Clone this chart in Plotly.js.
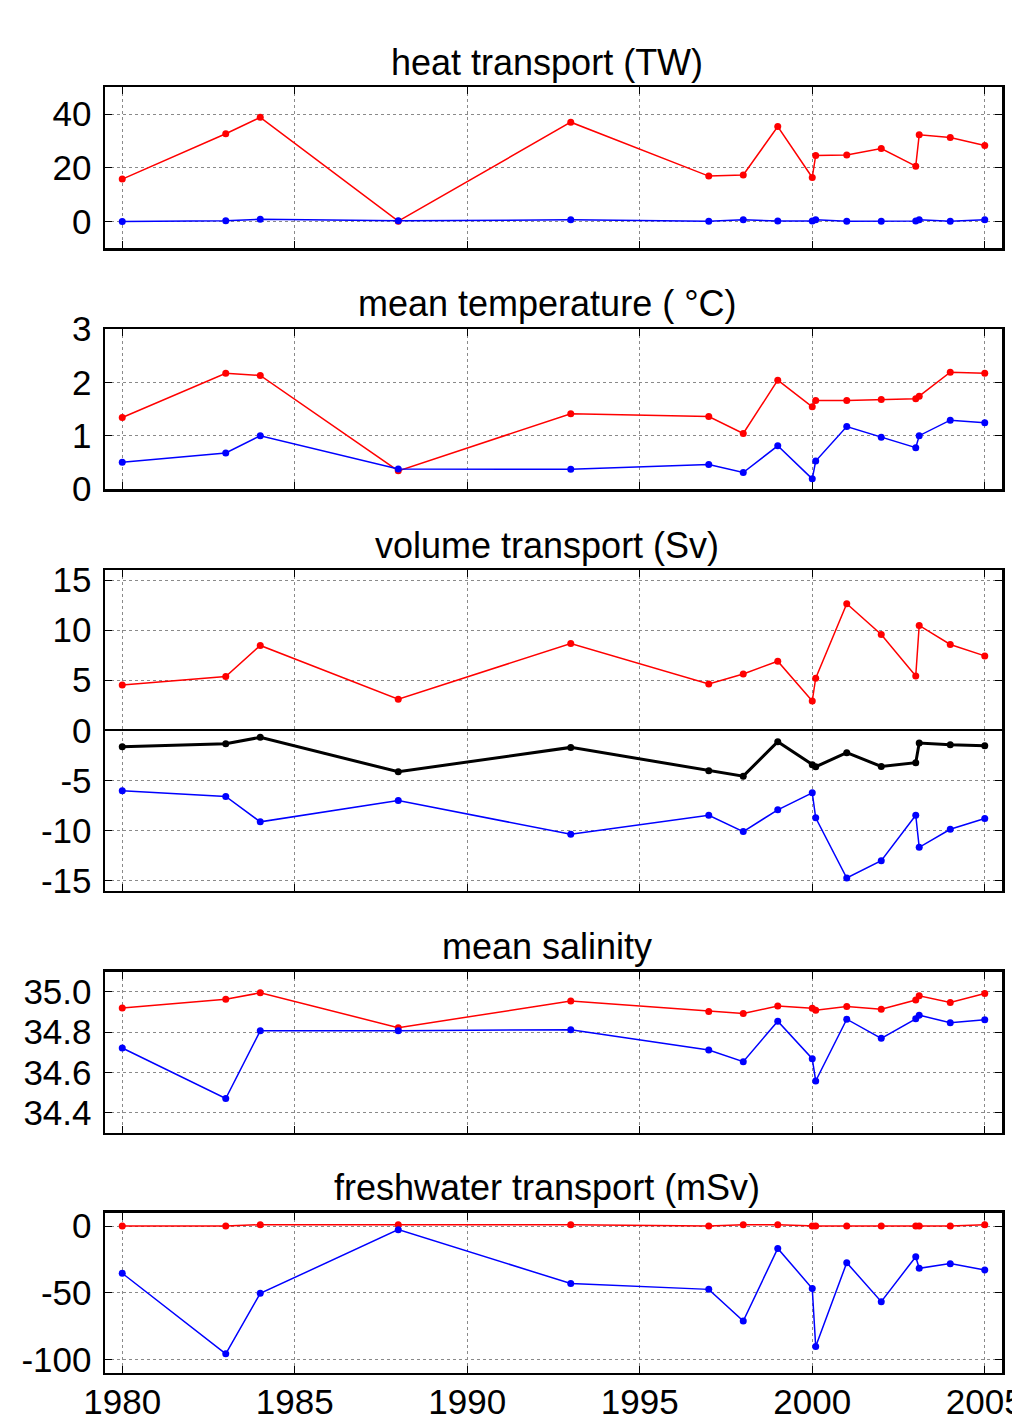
<!DOCTYPE html>
<html>
<head>
<meta charset="utf-8">
<script src="https://cdn.plot.ly/plotly-3.0.1.min.js"></script>
<style>
html,body{margin:0;padding:0;background:#fff;overflow:hidden;}
#chart{width:1012px;height:1420px;}
</style>
</head>
<body>
<div id="chart"></div>
<script>
// ---- data ----
const years = [1980, 1983, 1984, 1988, 1993, 1997, 1998, 1999, 2000, 2000.1, 2001, 2002, 2003, 2003.1, 2004, 2005];

const heatRed  = [15.8, 32.7, 38.8, 0.1, 37.0, 16.9, 17.3, 35.4, 16.4, 24.6, 24.8, 27.2, 20.6, 32.3, 31.3, 28.3];
const heatBlue = [0.0, 0.3, 0.8, 0.3, 0.6, 0.1, 0.6, 0.2, 0.2, 0.6, 0.1, 0.1, 0.2, 0.6, 0.1, 0.6];

const tempRed  = [1.34, 2.17, 2.13, 0.34, 1.41, 1.36, 1.04, 2.04, 1.54, 1.66, 1.66, 1.68, 1.69, 1.74, 2.19, 2.17];
const tempBlue = [0.50, 0.675, 1.00, 0.375, 0.37, 0.46, 0.31, 0.81, 0.19, 0.525, 1.17, 0.97, 0.775, 1.00, 1.29, 1.24];

const volRed   = [4.53, 5.37, 8.47, 3.1, 8.67, 4.63, 5.63, 6.9, 2.93, 5.2, 12.63, 9.57, 5.43, 10.47, 8.57, 7.43];
const volNet   = [-1.63, -1.33, -0.7, -4.13, -1.7, -4.03, -4.57, -1.13, -3.43, -3.63, -2.23, -3.6, -3.23, -1.27, -1.43, -1.53];
const volBlue  = [-6.03, -6.6, -9.13, -7.0, -10.37, -8.47, -10.1, -7.93, -6.23, -8.73, -14.73, -13.0, -8.47, -11.67, -9.87, -8.8];

const salRed   = [34.92, 34.963, 34.995, 34.822, 34.954, 34.902, 34.892, 34.929, 34.919, 34.909, 34.927, 34.914, 34.959, 34.98, 34.947, 34.992];
const salBlue  = [34.721, 34.47, 34.806, 34.806, 34.812, 34.711, 34.653, 34.854, 34.668, 34.557, 34.864, 34.769, 34.866, 34.884, 34.846, 34.861];

const fwRed    = [0, 0, 1, 1, 1, 0, 1, 1, 0, 0, 0, 0, 0, 0, 0, 1];
const fwBlue   = [-35.4, -95.8, -50.5, -2.7, -43.1, -47.5, -71.3, -16.8, -46.8, -90.3, -27.5, -56.7, -23.0, -31.7, -28.2, -32.9];

const panelTitles = ['heat transport (TW)', 'mean temperature ( °C)', 'volume transport (Sv)', 'mean salinity', 'freshwater transport (mSv)'];
const yRanges = [[-10, 50], [0, 3], [-16, 16], [34.3, 35.1], [-110, 10]];
const yTicks = [[0, 20, 40], [0, 1, 2, 3], [-15, -10, -5, 0, 5, 10, 15], [34.4, 34.6, 34.8, 35.0], [-100, -50, 0]];
const yTickText = [['0', '20', '40'], ['0', '1', '2', '3'], ['-15', '-10', '-5', '0', '5', '10', '15'], ['34.4', '34.6', '34.8', '35.0'], ['-100', '-50', '0']];
const xTicks = [1980, 1985, 1990, 1995, 2000, 2005];

// ---- layout geometry (pixels) ----
const H = 1420;
const boxes = [[87.3, 248.3], [329, 489], [570, 890.7], [971.7, 1132.7], [1212.7, 1372.7]];

const FONT = 'Liberation Sans, Arial, sans-serif';
const RED = '#ff0000', BLUE = '#0000ff', BLACK = '#000000';

function series(x, y, color, idx, width, msize) {
  const s = idx === 0 ? '' : String(idx + 1);
  return {
    x: x, y: y, type: 'scatter', mode: 'lines+markers',
    xaxis: 'x' + s, yaxis: 'y' + s,
    line: {color: color, width: width},
    marker: {color: color, size: msize},
    showlegend: false, hoverinfo: 'skip', cliponaxis: false
  };
}

const traces = [
  series(years, heatRed, RED, 0, 1.5, 7),
  series(years, heatBlue, BLUE, 0, 1.5, 7),
  series(years, tempRed, RED, 1, 1.5, 7),
  series(years, tempBlue, BLUE, 1, 1.5, 7),
  series(years, volRed, RED, 2, 1.5, 7),
  series(years, volNet, BLACK, 2, 3, 7),
  series(years, volBlue, BLUE, 2, 1.5, 7),
  series(years, salRed, RED, 3, 1.5, 7),
  series(years, salBlue, BLUE, 3, 1.5, 7),
  series(years, fwRed, RED, 4, 1.5, 7),
  series(years, fwBlue, BLUE, 4, 1.5, 7)
];

const layout = {
  width: 1012, height: 1420,
  margin: {l: 105, r: 10, t: 0, b: 0},
  paper_bgcolor: '#ffffff', plot_bgcolor: '#ffffff',
  font: {family: FONT, size: 35, color: '#000'},
  showlegend: false,
  annotations: []
};

for (let i = 0; i < 5; i++) {
  const s = i === 0 ? '' : String(i + 1);
  const dom = [1 - boxes[i][1] / H, 1 - boxes[i][0] / H];
  layout['xaxis' + s] = {
    domain: [0, 1], anchor: 'y' + s,
    range: [1979.5, 2005.5],
    tickmode: 'array', tickvals: xTicks, ticktext: xTicks.map(String),
    showticklabels: i === 4,
    ticks: 'inside', ticklen: 7, tickwidth: 1, tickcolor: '#000',
    showline: true, linecolor: '#000', linewidth: 2.5, mirror: 'allticks',
    showgrid: true, gridcolor: '#8a8a8a', gridwidth: 1, griddash: 'dot',
    zeroline: false,
    tickfont: {family: FONT, size: 35, color: '#000'},
    ticklabelstandoff: -3,
    ticklabeloverflow: 'allow',
    fixedrange: true
  };
  layout['yaxis' + s] = {
    domain: dom, anchor: 'x' + s,
    range: yRanges[i],
    tickmode: 'array', tickvals: yTicks[i], ticktext: yTickText[i],
    ticks: 'inside', ticklen: 7, tickwidth: 1, tickcolor: '#000',
    showline: true, linecolor: '#000', linewidth: 2.5, mirror: 'allticks',
    showgrid: true, gridcolor: '#8a8a8a', gridwidth: 1, griddash: 'dot',
    zeroline: i === 2, zerolinecolor: '#000', zerolinewidth: 2,
    tickfont: {family: FONT, size: 35, color: '#000'},
    ticklabelstandoff: 4,
    ticklabeloverflow: 'allow',
    fixedrange: true
  };
  layout.annotations.push({
    text: panelTitles[i], xref: 'paper', yref: 'paper',
    x: 0.493, y: 1 - (boxes[i][0] - 25) / H,
    xanchor: 'center', yanchor: 'middle', showarrow: false,
    font: {family: FONT, size: 36, color: '#000'}
  });
}

Plotly.newPlot('chart', traces, layout, {staticPlot: true, displayModeBar: false});
</script>
</body>
</html>
